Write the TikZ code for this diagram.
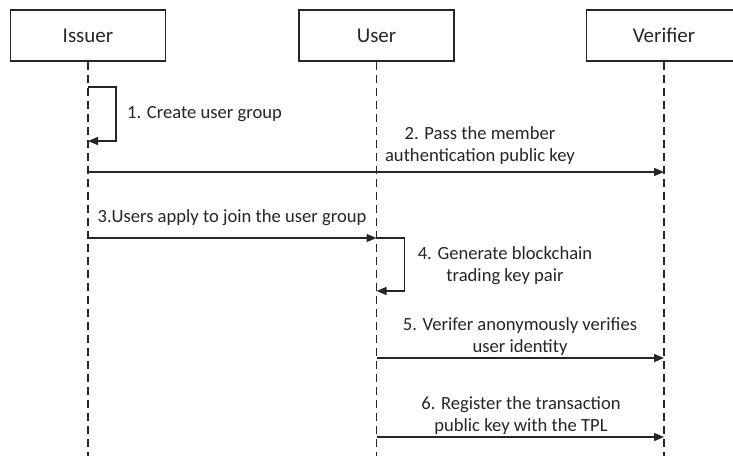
\documentclass[tikz,border=0pt]{standalone}
\usepackage{fontspec}
\setmainfont{Carlito}
\usetikzlibrary{arrows.meta}
\begin{document}
\begin{tikzpicture}[x=1pt,y=-1pt,
  actor/.style={draw=black!85, line width=1.4pt, minimum width=155pt, minimum height=51pt,
    inner sep=0pt, font=\fontsize{21}{25}\selectfont, text=black!85},
  lifeline/.style={draw=black!85, line width=1.3pt, dash pattern=on 8pt off 5pt},
  msg/.style={draw=black!85, line width=1.3pt, -{Triangle[length=10pt,width=8pt]}},
  lbl/.style={font=\fontsize{18.6}{22}\selectfont, align=center, text=black!85, inner sep=0pt}
]
\useasboundingbox (0,0) rectangle (733,456);

% participants
\node[actor] (issuer)   at (88,35.5)  {Issuer};
\node[actor] (user)     at (376.5,35.5) {User};
\node[actor] (verifier) at (664,35.5) {Verifier};

% lifeline ends
\coordinate (issuerEnd)   at (88,456);
\coordinate (userEnd)     at (376.5,456);
\coordinate (verifierEnd) at (664,456);
\draw[lifeline] (issuer.south) -- (issuerEnd);
\draw[lifeline] (user.south) -- (userEnd);
\draw[lifeline] (verifier.south) -- (verifierEnd);

% message anchor points on the lifelines
\coordinate (i1a) at (88,87);
\coordinate (i1b) at (88,141);
\coordinate (i2)  at (88,172);
\coordinate (v2)  at (664,172);
\coordinate (i3)  at (88,238);
\coordinate (u3)  at (376.5,238);
\coordinate (u4)  at (376.5,291);
\coordinate (u5)  at (376.5,358);
\coordinate (v5)  at (664,358);
\coordinate (u6)  at (376.5,437);
\coordinate (v6)  at (664,437);

% 1. self message of the issuer
\draw[msg] (i1a) -- ++(28,0) |- (i1b);
\node[lbl, anchor=west] (l1) at (127,114) {1. Create user group};

% 2. issuer -> verifier
\draw[msg] (i2) -- (v2);
\node[lbl] (l2) at (480,146) {2. Pass the member\\authentication public key};

% 3. issuer -> user
\draw[msg] (i3) -- (u3);
\node[lbl] (l3) at (232,218) {3.Users apply to join the user group};

% 4. self message of the user
\draw[msg] (u3) -- ++(28,0) |- (u4);
\node[lbl] (l4) at (505,266) {4. Generate blockchain\\trading key pair};

% 5. user -> verifier
\draw[msg] (u5) -- (v5);
\node[lbl] (l5) at (520,337) {5. Verifer anonymously verifies\\user identity};

% 6. user -> verifier
\draw[msg] (u6) -- (v6);
\node[lbl] (l6) at (521,415.5) {6. Register the transaction\\public key with the TPL};
\end{tikzpicture}
\end{document}
